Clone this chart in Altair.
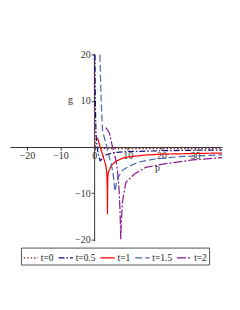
import altair as alt
import pandas as pd

labels = ["t=0", "t=0.5", "t=1", "t=1.5", "t=2"]
colors = ["#8B2020", "#10107A", "#FF0000", "#4A66B0", "#8A1A8A"]
dashes = [[1.5, 2], [6, 2, 1.5, 2], [1, 0], [7, 3], [9, 2, 2, 2]]

x_ticks = [-20, -10, 0, 10, 20, 30]
y_ticks = [-20, -10, 10, 20]
x_dom = [-25, 38]
y_dom = [-20.3, 20.3]

p_t0 = [0.05, 0.1, 0.2, 0.4, 1.0, 5, 10, 20, 30, 38]
g_t0 = [20, 8, 2, 0, -0.3, -0.35, -0.35, -0.35, -0.35, -0.35]

p_t05 = [0.25, 0.3, 0.4, 0.55, 0.8, 1.2, 1.8, 2.3, 3.0, 5.9, 9.5, 20, 30, 38]
g_t05 = [20, 14, 8, 3, 0.5, -1.5, -3.0, -2.6, -1.8, -1.2, -1.0, -0.8, -0.7, -0.65]

p_t1 = [1.0, 1.5, 2.0, 2.5, 3.0, 3.5, 3.8, 3.9, 3.95, 4.05, 4.2, 5.0, 6.4, 8.9, 11.9, 15, 20, 30, 38]
g_t1 = [2.0, 0.8, -0.5, -1.6, -2.8, -4.1, -6, -9, -14.6, -7, -5.6, -4.1, -3.1, -2.3, -2.0, -1.75, -1.55, -1.4, -1.3]

p_t15 = [1.7, 1.9, 2.1, 2.5, 3.5, 4.2, 5.0, 5.6, 5.9, 6.15, 6.6, 7.2, 8.5, 10, 13, 18, 25, 38]
g_t15 = [20, 15, 10, 3.5, 0.8, -1.3, -3.5, -5.5, -7.5, -9.6, -8, -6.5, -5, -4.3, -3.3, -2.6, -2.1, -1.7]

p_t2 = [3.5, 4.5, 5.4, 6.4, 6.9, 7.4, 7.7, 7.9, 8.1, 8.4, 9.4, 11.9, 15.3, 21.3, 29.2, 38]
g_t2 = [4.2, 3.1, 0.2, -2.7, -4.9, -9.2, -14, -20, -16, -12, -7.7, -5.9, -4.4, -3.6, -2.8, -2.3]

series_p = [p_t0, p_t05, p_t1, p_t15, p_t2]
series_g = [g_t0, g_t05, g_t1, g_t15, g_t2]

rows = []
for lab, ps, gs in zip(labels, series_p, series_g):
    for i, (p, g) in enumerate(zip(ps, gs)):
        rows.append({"t": lab, "p": p, "g": g, "i": i})
df = pd.DataFrame(rows)

ann_text = ["g", "p"]
ann_p = [-7.0, 18.8]
ann_g = [10.3, -4.6]
ann = pd.DataFrame({"text": ann_text, "p": ann_p, "g": ann_g})

W, H = 213, 188
x0 = (0 - x_dom[0]) / (x_dom[1] - x_dom[0]) * W
y0 = (y_dom[1] - 0) / (y_dom[1] - y_dom[0]) * H

FONT = "Liberation Serif"

xscale = alt.Scale(domain=x_dom, nice=False, zero=False)
yscale = alt.Scale(domain=y_dom, nice=False, zero=False)

leg = alt.Legend(orient="none", legendX=11, legendY=195, direction="horizontal",
                 columns=5, symbolType="stroke", symbolSize=210, symbolStrokeWidth=1.3,
                 labelFont=FONT, labelFontSize=9.5, labelColor="#222", labelOffset=2,
                 columnPadding=2, padding=2, strokeColor="#555", title=None)

lines = alt.Chart(df).mark_line(clip=True, strokeWidth=1.2).encode(
    x=alt.X("p:Q", scale=xscale,
            axis=alt.Axis(values=x_ticks, orient="bottom", offset=-(H - y0), grid=False,
                          title=None, labelFont=FONT, labelFontSize=10, labelColor="#333",
                          domainColor="#333", tickColor="#333", tickSize=3, labelPadding=1,
                          labelFlush=False)),
    y=alt.Y("g:Q", scale=yscale,
            axis=alt.Axis(values=y_ticks, orient="left", offset=-x0, grid=False,
                          title=None, labelFont=FONT, labelFontSize=10, labelColor="#333",
                          domainColor="#333", tickColor="#333", tickSize=3, labelPadding=1,
                          labelFlush=False)),
    color=alt.Color("t:N", scale=alt.Scale(domain=labels, range=colors), legend=leg),
    strokeDash=alt.StrokeDash("t:N", scale=alt.Scale(domain=labels, range=dashes), legend=leg),
    detail="t:N",
    order="i:Q",
)

texts = alt.Chart(ann).mark_text(font=FONT, fontSize=10, color="#333").encode(
    x=alt.X("p:Q", scale=xscale),
    y=alt.Y("g:Q", scale=yscale),
    text="text:N",
)

chart = alt.layer(lines, texts).properties(
    width=W, height=H,
    autosize=alt.AutoSizeParams(type="none"),
    padding={"left": 2, "top": 45, "right": 10, "bottom": 60},
).configure_view(stroke=None)

chart.save("out.html", embed_options={"renderer": "svg", "actions": False})
